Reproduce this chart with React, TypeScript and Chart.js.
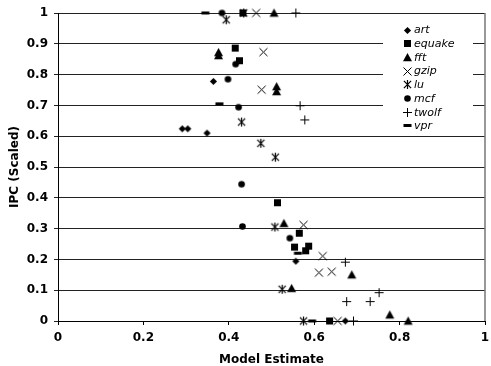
import React, { useEffect, useRef } from "react";
import { Chart, registerables } from "chart.js";

Chart.register(...registerables);

const seriesNames = ["art", "equake", "fft", "gzip", "lu", "mcf", "twolf", "vpr"];
const markerKinds = ["diamond", "square", "triangle", "x", "asterisk", "circle", "plus", "dash"];

const artX = [0.291, 0.304, 0.349, 0.364, 0.557, 0.673];
const artY = [0.624, 0.624, 0.61, 0.778, 0.194, 0];
const equakeX = [0.433, 0.415, 0.425, 0.514, 0.565, 0.554, 0.58, 0.587, 0.636];
const equakeY = [1, 0.886, 0.845, 0.384, 0.285, 0.24, 0.228, 0.243, 0];
const fftX = [0.506, 0.376, 0.376, 0.512, 0.512, 0.529, 0.547, 0.688, 0.777, 0.82];
const fftY = [1, 0.872, 0.862, 0.761, 0.745, 0.317, 0.106, 0.15, 0.02, 0];
const gzipX = [0.464, 0.481, 0.477, 0.575, 0.62, 0.611, 0.641, 0.655];
const gzipY = [1, 0.873, 0.751, 0.312, 0.211, 0.157, 0.16, 0];
const luX = [0.394, 0.435, 0.43, 0.475, 0.509, 0.508, 0.525, 0.575];
const luY = [0.978, 1, 0.646, 0.577, 0.532, 0.305, 0.103, 0];
const mcfX = [0.384, 0.416, 0.398, 0.423, 0.43, 0.432, 0.543];
const mcfY = [1, 0.834, 0.785, 0.694, 0.444, 0.307, 0.269];
const twolfX = [0.557, 0.567, 0.578, 0.673, 0.752, 0.676, 0.731, 0.692];
const twolfY = [1, 0.699, 0.653, 0.191, 0.092, 0.063, 0.063, 0];
const vprX = [0.345, 0.378, 0.562, 0.595];
const vprY = [1, 0.705, 0.22, 0];

const xTickValues = [0, 0.2, 0.4, 0.6, 0.8, 1];
const yTickValues = [0, 0.1, 0.2, 0.3, 0.4, 0.5, 0.6, 0.7, 0.8, 0.9, 1];

const allX = [artX, equakeX, fftX, gzipX, luX, mcfX, twolfX, vprX];
const allY = [artY, equakeY, fftY, gzipY, luY, mcfY, twolfY, vprY];

function makeMarker(kind: string): HTMLCanvasElement {
  const s = 13;
  const cv = document.createElement("canvas");
  cv.width = s;
  cv.height = s;
  const ctx = cv.getContext("2d")!;
  const m = s / 2;
  ctx.fillStyle = "#000";
  ctx.strokeStyle = "#000";
  ctx.lineWidth = 1;
  ctx.beginPath();
  switch (kind) {
    case "diamond":
      ctx.moveTo(m, m - 3.6);
      ctx.lineTo(m + 3.6, m);
      ctx.lineTo(m, m + 3.6);
      ctx.lineTo(m - 3.6, m);
      ctx.closePath();
      ctx.fill();
      break;
    case "square":
      ctx.fillRect(m - 3.5, m - 3.5, 7, 7);
      break;
    case "triangle":
      ctx.moveTo(m, m - 4.5);
      ctx.lineTo(m + 4.5, m + 3.8);
      ctx.lineTo(m - 4.5, m + 3.8);
      ctx.closePath();
      ctx.fill();
      break;
    case "x":
      ctx.moveTo(m - 4, m - 4);
      ctx.lineTo(m + 4, m + 4);
      ctx.moveTo(m + 4, m - 4);
      ctx.lineTo(m - 4, m + 4);
      ctx.stroke();
      break;
    case "asterisk":
      ctx.lineWidth = 1.2;
      ctx.moveTo(m - 3.6, m - 3.6);
      ctx.lineTo(m + 3.6, m + 3.6);
      ctx.moveTo(m + 3.6, m - 3.6);
      ctx.lineTo(m - 3.6, m + 3.6);
      ctx.moveTo(m, m - 4.5);
      ctx.lineTo(m, m + 4.5);
      ctx.stroke();
      break;
    case "circle":
      ctx.arc(m, m, 3.3, 0, Math.PI * 2);
      ctx.fill();
      break;
    case "plus":
      ctx.moveTo(m - 4.5, m);
      ctx.lineTo(m + 4.5, m);
      ctx.moveTo(m, m - 4.5);
      ctx.lineTo(m, m + 4.5);
      ctx.stroke();
      break;
    case "dash":
      ctx.fillRect(m - 4, m - 1.5, 8, 3);
      break;
  }
  return cv;
}

const fmt = (v: number) => String(Number(v.toFixed(1)));

export default function App() {
  const ref = useRef<HTMLCanvasElement>(null);

  useEffect(() => {
    document.body.style.margin = "0";
    const markers = markerKinds.map(makeMarker);

    const datasets = seriesNames.map((name, i) => ({
      label: name,
      data: allX[i].map((x, j) => ({ x, y: allY[i][j] })),
      pointStyle: markers[i] as any,
      pointRadius: 5,
      showLine: false,
      clip: false as any,
    }));

    const legendPlugin = {
      id: "insideLegend",
      afterDatasetsDraw(chart: any) {
        const ctx = chart.ctx as CanvasRenderingContext2D;
        ctx.save();
        ctx.fillStyle = "#fff";
        ctx.fillRect(383, 20, 90, 114);
        ctx.font = "italic 11px 'DejaVu Sans'";
        ctx.textBaseline = "middle";
        ctx.textAlign = "left";
        ctx.fillStyle = "#000";
        seriesNames.forEach((name, i) => {
          const y = 30 + i * 13.7;
          const mk = markers[i];
          ctx.drawImage(mk, Math.round(407.5 - mk.width / 2), Math.round(y - mk.height / 2));
          ctx.fillText(name, 414, y + 0.5);
        });
        // right border of the plot area
        const a = chart.chartArea;
        ctx.strokeStyle = "#777";
        ctx.lineWidth = 1.5;
        ctx.beginPath();
        ctx.moveTo(a.right, a.top);
        ctx.lineTo(a.right, a.bottom);
        ctx.stroke();
        ctx.restore();
      },
    };

    const chart = new Chart(ref.current!, {
      type: "scatter",
      data: { datasets },
      plugins: [legendPlugin],
      options: {
        animation: false,
        responsive: true,
        maintainAspectRatio: false,
        layout: { padding: { top: 13, right: 3, left: 0, bottom: 0 } },
        plugins: { legend: { display: false }, tooltip: { enabled: false } },
        scales: {
          x: {
            type: "linear",
            min: 0,
            max: 1,
            afterFit: (s: any) => {
              s.height = 45;
              s.paddingLeft = 0;
              s.paddingRight = 0;
            },
            afterBuildTicks: (s: any) => {
              s.ticks = xTickValues.map((v) => ({ value: v }));
            },
            ticks: {
              color: "#000",
              font: { family: "'DejaVu Sans'", size: 12, weight: "bold" },
              padding: 6,
              callback: (v: any) => fmt(Number(v)),
            },
            grid: { drawOnChartArea: false, drawTicks: true, tickLength: 4, color: "#000" },
            border: { color: "#000", width: 1 },
            title: {
              display: true,
              text: "Model Estimate",
              color: "#000",
              font: { family: "'DejaVu Sans'", size: 12, weight: "bold", lineHeight: 1 },
              padding: { top: 0, bottom: 0 },
            },
          },
          y: {
            type: "linear",
            min: 0,
            max: 1,
            afterFit: (s: any) => {
              s.width = 58;
              s.paddingTop = 0;
              s.paddingBottom = 0;
            },
            afterBuildTicks: (s: any) => {
              s.ticks = yTickValues.map((v) => ({ value: v }));
            },
            ticks: {
              color: "#000",
              font: { family: "'DejaVu Sans'", size: 12, weight: "bold" },
              padding: 6,
              callback: (v: any) => fmt(Number(v)),
            },
            grid: { drawOnChartArea: true, drawTicks: true, tickLength: 4, color: "#222", lineWidth: 1 },
            border: { color: "#000", width: 1 },
            title: {
              display: true,
              text: "IPC (Scaled)",
              color: "#000",
              font: { family: "'DejaVu Sans'", size: 12, weight: "bold", lineHeight: 1 },
              padding: { top: 9, bottom: 0 },
            },
          },
        },
      },
    });
    return () => chart.destroy();
  }, []);

  return (
    <div style={{ position: "relative", width: 491, height: 366 }}>
      <canvas ref={ref} />
    </div>
  );
}
